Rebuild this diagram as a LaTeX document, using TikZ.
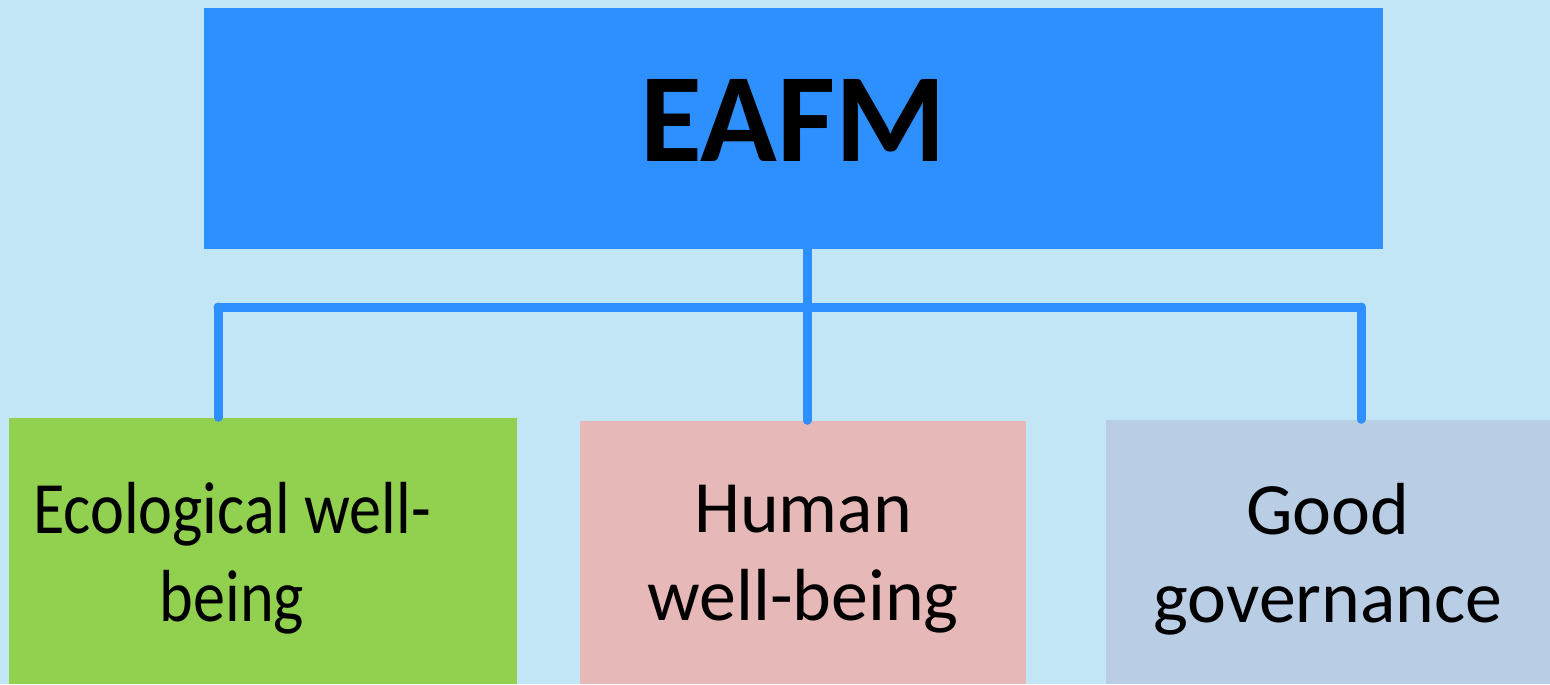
\documentclass[tikz,border=0pt]{standalone}
\usepackage{fontspec}
\setmainfont{Carlito}
\usepackage{tikz}
\usetikzlibrary{positioning,calc}

\definecolor{skybg}{HTML}{C2E6F5}
\definecolor{eafmblue}{HTML}{2E8FFF}
\definecolor{ecogreen}{HTML}{92D050}
\definecolor{humpink}{HTML}{E6B8B7}
\definecolor{govgrey}{HTML}{B9CDE5}

\begin{document}
\begin{tikzpicture}[
  box/.style={rectangle,draw=none,inner sep=0pt},
  lbl/.style={align=center,inner sep=0pt,font=\fontsize{21}{25}\selectfont},
  link/.style={draw=eafmblue,line width=0.09cm,line cap=round,
    preaction={draw=black,opacity=0.18,transform canvas={shift={(0.015,-0.02)}}}}]
  \fill[skybg] (0,0) rectangle (15.5,-6.84);
  \useasboundingbox (0,0) rectangle (15.5,-6.84);

  \node[box,fill=eafmblue,minimum width=11.79cm,minimum height=2.41cm] (eafm) at (7.935,-1.285) {};
  \node[font=\fontsize{36}{40}\selectfont\bfseries,inner sep=0pt] at ([yshift=0.08cm]eafm.center) {EAFM};

  \node[box,fill=ecogreen,minimum width=5.08cm,minimum height=2.66cm] (eco) at (2.63,-5.51) {};
  \node[box,fill=humpink,minimum width=4.46cm,minimum height=2.63cm] (hum) at (8.03,-5.525) {};
  \node[box,fill=govgrey,minimum width=4.44cm,minimum height=2.64cm] (gov) at (13.28,-5.52) {};

  \node[lbl,xscale=0.87,transform shape] at ([xshift=-0.31cm,yshift=-0.07cm]eco.center) {Ecological well-\\being};
  \node[lbl] at ([yshift=-0.07cm]hum.center) {Human\\well-being};
  \node[lbl] at ([yshift=-0.07cm]gov.center) {Good\\governance};

  % bus bar
  \coordinate (bl) at (2.18,-3.07);
  \coordinate (bm) at (8.07,-3.07);
  \coordinate (br) at (13.61,-3.07);

  \draw[link] (eafm.south -| bm) -- (bm);
  \draw[link] (bl) -- (br);
  \draw[link] (bl) -- (bl |- eco.north);
  \draw[link] (bm) -- (bm |- hum.north);
  \draw[link] (br) -- (br |- gov.north);
\end{tikzpicture}
\end{document}
